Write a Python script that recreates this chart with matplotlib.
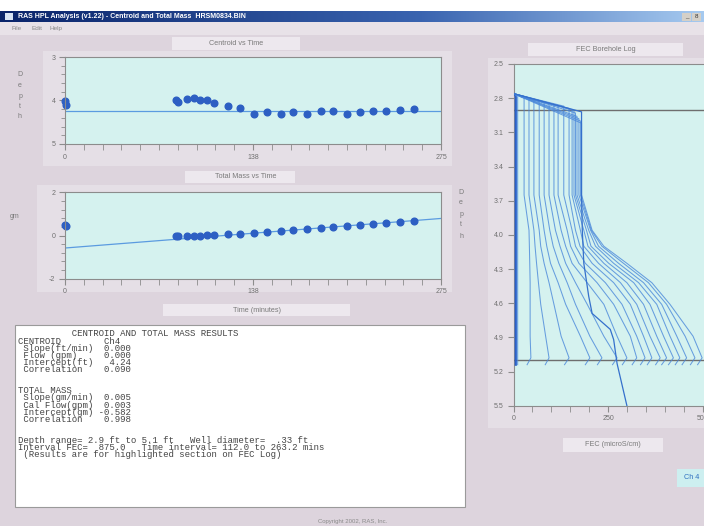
import matplotlib
matplotlib.use("Agg")
import matplotlib.pyplot as plt
import numpy as np
from matplotlib.patches import Rectangle
from matplotlib.colors import LinearSegmentedColormap

W, H = 704, 526

# ---- centroid vs time (depth of centroid, ft) ----
cent_time = [0, 1, 81, 83, 89, 94, 99, 104, 109, 119, 128, 138, 148, 158,
             167, 177, 187, 196, 206, 216, 225, 235, 245, 255]
cent_depth = [4.02, 4.10, 3.99, 4.03, 3.96, 3.95, 3.98, 3.99, 4.05, 4.12,
              4.18, 4.30, 4.26, 4.30, 4.26, 4.32, 4.24, 4.24, 4.31, 4.27,
              4.24, 4.24, 4.22, 4.20]
cent_slope, cent_intercept = 0.000, 4.24

# ---- total mass vs time (gm) ----
mass_time = cent_time
mass_gm = [0.47, 0.45, 0.00, -0.01, 0.00, 0.00, 0.00, 0.01, 0.02, 0.05,
           0.08, 0.11, 0.17, 0.20, 0.24, 0.30, 0.34, 0.38, 0.45, 0.50,
           0.54, 0.60, 0.63, 0.69]
mass_slope, mass_intercept = 0.005, -0.582

# ---- FEC borehole log profiles (FEC in microS/cm) ----
fec_top = [6, 11, 28, 41, 54, 68, 81, 94, 107, 118, 133, 147, 155, 160,
           164, 168, 173, 177, 180]
fec_top_end = [2.78, 2.79, 2.80, 2.81, 2.82, 2.83, 2.84, 2.85, 2.86, 2.87,
               2.87, 2.89, 2.90, 2.91, 2.93, 2.96, 2.98, 3.00, 3.02]
fec_knots = [3.96, 4.10, 4.25, 4.42, 4.61, 4.89, 5.08]
fec_profiles = [
    [6, 6, 6, 6, 6, 6, 6],
    [11, 11, 11, 11, 11, 11, 11],
    [41, 42, 43, 44, 44, 44, 46],
    [54, 57, 61, 66, 72, 85, 94],
    [68, 72, 81, 94, 107, 126, 147],
    [81, 88, 98, 118, 138, 177, 202],
    [96, 105, 120, 142, 164, 202, 234],
    [111, 123, 138, 164, 195, 239, 274],
    [126, 138, 155, 195, 239, 274, 300],
    [142, 151, 173, 221, 265, 309, 326],
    [155, 164, 190, 243, 287, 326, 348],
    [164, 176, 208, 265, 309, 344, 366],
    [177, 186, 225, 283, 326, 361, 388],
    [186, 197, 239, 300, 344, 379, 405],
    [193, 205, 252, 318, 361, 397, 423],
    [199, 217, 265, 331, 379, 414, 440],
    [204, 225, 278, 344, 392, 432, 458],
    [206, 234, 291, 357, 405, 454, 480],
    [208, 239, 300, 366, 414, 475, 499],
]
fec_hook = [6, 11, 36, 84, 135, 190, 222, 262, 288, 314, 336, 354, 376,
            392, 410, 428, 446, 468, 487]
# one profile that runs past the bottom of the interval
odd_fec = [0, 180, 180, 182, 186, 199, 208, 256, 265, 274, 300]
odd_depth = [2.76, 2.92, 3.65, 3.96, 4.25, 4.54, 4.69, 4.83, 4.92, 5.13, 5.5]
interval_top, interval_bottom = 2.9, 5.1

results_lines = [
    "          CENTROID AND TOTAL MASS RESULTS",
    "CENTROID        Ch4",
    " Slope(ft/min)  0.000",
    " Flow (gpm)     0.000",
    " Intercept(ft)   4.24",
    " Correlation    0.090",
    "",
    "",
    "TOTAL MASS",
    " Slope(gm/min)  0.005",
    " Cal Flow(gpm)  0.003",
    " Intercept(gm) -0.582",
    " Correlation    0.998",
    "",
    "",
    "Depth range= 2.9 ft to 5.1 ft   Well diameter=  .33 ft",
    "Interval FEC=  875.0   Time interval= 112.0 to 263.2 mins",
    " (Results are for highlighted section on FEC Log)",
]

BG = "#ddd4dd"
PANEL = "#e5dfe6"
FACE = "#d5f2ef"
SPINE = "#8c8c8c"
DOT = "#2d5fc3"
FIT = "#5b9be0"
LINE = "#4a88da"

fig = plt.figure(figsize=(W / 100, H / 100), dpi=100, facecolor=BG)

bg = fig.add_axes([0, 0, 1, 1], zorder=0)
bg.set_xlim(0, W)
bg.set_ylim(H, 0)
bg.axis("off")


def box(x0, y0, x1, y1, color, **kw):
    bg.add_patch(Rectangle((x0, y0), x1 - x0, y1 - y0, facecolor=color,
                           edgecolor=kw.pop("ec", "none"), lw=kw.pop("lw", 0), **kw))


def label(x, y, s, size=5.2, color="#7a7a7a", **kw):
    bg.text(x, y, s, ha=kw.pop("ha", "center"), va="center", fontsize=size,
            color=color, family="Liberation Sans", **kw)


# window chrome
box(0, 0, W, 11, "white")
grad = np.linspace(0, 1, 256).reshape(1, -1)
cmap = LinearSegmentedColormap.from_list(
    "tb", [(0, "#0a246a"), (0.6, "#3a64b0"), (1, "#a6caf0")])
bg.imshow(grad, cmap=cmap, extent=[0, W, 22, 11], aspect="auto", zorder=1)
box(5, 13, 13, 20, "#d8e4f4", zorder=2)
label(18, 16.5, "RAS HPL Analysis (v1.22) - Centroid and Total Mass  HRSM0834.BIN",
      size=5, color="white", ha="left", weight="bold", zorder=3)
for bx, s in [(682, "_"), (692, "8")]:
    box(bx, 13, bx + 9, 21, "#d4d0c8", zorder=2)
    label(bx + 4.5, 16.5, s, size=4.5, color="#333333", zorder=3)
box(0, 22, W, 35, "#e8e2e8")
for mx, s in [(12, "File"), (32, "Edit"), (50, "Help")]:
    label(mx, 28.5, s, size=4.6, color="#8a8a8a", ha="left")

# panels behind charts
box(43, 51, 452, 166, PANEL)
box(37, 185, 452, 292, PANEL)
box(488, 58, W, 428, PANEL)

# title boxes
box(172, 37, 300, 50, "#ede8ee")
label(236, 43.5, "Centroid vs Time")
box(185, 171, 295, 183, "#ede8ee")
label(246, 177, "Total Mass vs Time")
box(163, 304, 350, 316, "#ede8ee")
label(257, 310, "Time (minutes)")
box(528, 43, 683, 56, "#ede8ee")
label(606, 49.5, "FEC Borehole Log")
box(563, 438, 663, 452, "#ede8ee")
label(613, 445, "FEC (microS/cm)")
box(677, 469, W, 487, "#cdeff0")
label(692, 477.5, "Ch 4", color="#3070c0")

for i, ch in enumerate("Depth"):
    label(20, 75 + i * 10.5, ch, size=5)
    label(461, 192 + i * 11, ch, size=5)
label(15, 217, "gm", size=5)
label(353, 522, "Copyright 2002, RAS, Inc.", size=4.3, color="#8a8a8a")

# results text box
box(15, 325, 465, 507, "white", ec="#9a9a9a", lw=0.8)
bg.text(18, 329.5, "\n".join(results_lines), ha="left", va="top", fontsize=6.5,
        linespacing=0.73, family="Liberation Mono", color="#444444")


def px_axes(x0, y0, x1, y1):
    return fig.add_axes([x0 / W, 1 - y1 / H, (x1 - x0) / W, (y1 - y0) / H], zorder=5)


def style(ax):
    ax.set_facecolor(FACE)
    for s in ax.spines.values():
        s.set_color(SPINE)
        s.set_linewidth(0.8)
    ax.tick_params(which="both", direction="out", colors=SPINE,
                   labelcolor="#707070", labelsize=5, pad=3)
    ax.tick_params(which="major", length=4)
    ax.tick_params(which="minor", length=3)
    for t in ax.get_xticklabels() + ax.get_yticklabels():
        t.set_family("Liberation Sans")


# centroid vs time
ax1 = px_axes(65, 57, 441, 144)
t_fit = np.array([0, 275])
ax1.plot(t_fit, cent_intercept + cent_slope * t_fit, color=FIT, lw=0.9)
ax1.plot(cent_time, cent_depth, "o", ms=4.8, color=DOT, mec=DOT, clip_on=False)
ax1.set_xlim(0, 275)
ax1.set_ylim(5, 3)
ax1.set_xticks([0, 137.5, 275], ["0", "138", "275"])
ax1.set_xticks(np.arange(0, 276, 13.75), minor=True)
ax1.set_yticks([3, 4, 5], ["3", "4", "5"])
ax1.set_yticks(np.arange(3, 5.01, 0.2), minor=True)
style(ax1)
ax1.tick_params(axis="x", which="minor", length=4)

# total mass vs time
ax2 = px_axes(65, 192.5, 441, 278.5)
ax2.plot(t_fit, mass_intercept + mass_slope * t_fit, color=FIT, lw=0.9)
ax2.plot(mass_time, mass_gm, "o", ms=4.8, color=DOT, mec=DOT, clip_on=False)
ax2.set_xlim(0, 275)
ax2.set_ylim(-2, 2)
ax2.set_xticks([0, 137.5, 275], ["0", "138", "275"])
ax2.set_xticks(np.arange(0, 276, 13.75), minor=True)
ax2.set_yticks([-2, 0, 2], ["-2", "0", "2"])
ax2.set_yticks(np.arange(-2, 2.01, 0.4), minor=True)
style(ax2)
ax2.tick_params(axis="x", which="minor", length=4)

# FEC borehole log
ax3 = px_axes(513.5, 64, 513.5 + 600 * 0.378, 405.7)
ax3.axhline(interval_top, color="#6e6e6e", lw=1.0, zorder=3)
ax3.axhline(interval_bottom, color="#6e6e6e", lw=1.0, zorder=3)
for i, prof in enumerate(fec_profiles):
    xs = [0, fec_top[i], fec_top[i]] + prof + [fec_hook[i]]
    ys = [2.76, fec_top_end[i], 3.65] + fec_knots + [5.14]
    if i == 0:
        ax3.plot(xs, ys, color="#2a60c8", lw=1.6, zorder=4)
    else:
        ax3.plot(xs, ys, color=LINE, lw=0.75, alpha=0.8, zorder=4)
ax3.plot(odd_fec, odd_depth, color="#3570cc", lw=0.9, zorder=4)
ax3.set_xlim(0, 600)
ax3.set_ylim(5.5, 2.5)
yt = np.arange(2.5, 5.51, 0.3)
ax3.set_yticks(yt, [f"{v:.1f}" for v in yt])
ax3.set_xticks([0, 250, 500], ["0", "250", "500"])
ax3.set_xticks(np.arange(0, 601, 50), minor=True)
style(ax3)
ax3.tick_params(axis="x", which="minor", length=4)

fig.savefig("out.png", dpi=100, facecolor=BG)
